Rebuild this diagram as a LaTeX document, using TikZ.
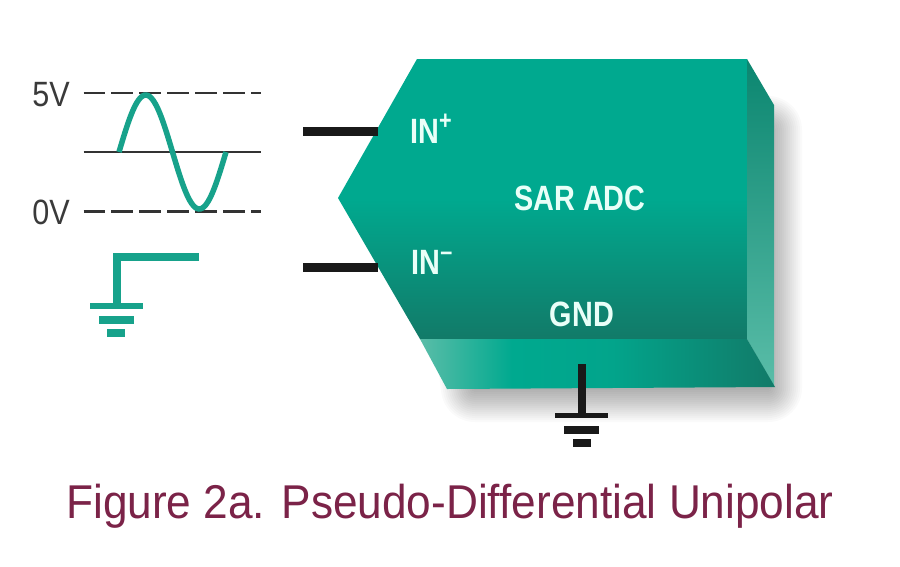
\documentclass[tikz,border=0pt]{standalone}
\usepackage{fontspec}
\setmainfont{Liberation Sans}
\newfontfamily\narrowfont[FakeStretch=0.87]{Liberation Sans}
\newfontfamily\capfont[FakeStretch=0.932]{Liberation Sans}
\newfontfamily\boldnarrow[FakeStretch=0.82]{Liberation Sans Bold}
\usetikzlibrary{positioning}
\definecolor{adcteal}{HTML}{00A98F}
\definecolor{adcdark}{HTML}{127A68}
\definecolor{adclight}{HTML}{5ABDA8}
\definecolor{adcside}{HTML}{0B8670}
\definecolor{adcmark}{HTML}{17A28B}
\definecolor{capred}{HTML}{7B2348}
\definecolor{volt}{HTML}{3A3A3A}
\definecolor{pintext}{HTML}{E9FFF8}
\pgfdeclarehorizontalshading{adcbottom}{100bp}{color(0bp)=(adclight); color(25bp)=(adclight);
  color(38bp)=(adcteal); color(52bp)=(adcteal!90!adcdark); color(75bp)=(adcdark); color(100bp)=(adcdark)}
\tikzset{
  x=0.02cm,y=-0.02cm,
  pin/.style={text=pintext,font=\boldnarrow\fontsize{20}{22}\selectfont,inner sep=0pt},
  volt/.style={text=volt,font=\narrowfont\fontsize{20}{22}\selectfont,inner sep=0pt},
  wire/.style={line width=0.18cm,black!90},
  level/.style={line width=0.05cm,black!80},
}
\newcommand{\pinsup}[1]{\raisebox{0.4em}{\fontsize{15}{15}\selectfont #1}}
\begin{document}
\begin{tikzpicture}
\useasboundingbox (0,0) rectangle (900,566);
\fill[white] (0,0) rectangle (900,566);

% soft shadow behind the block
\foreach \w in {4,8,...,68} {
  \draw[black,opacity=0.018,line width=\w*0.02cm,line join=round]
    (470,350) -- (768,130) -- (768,388) -- (475,388) -- cycle;
}

% block faces
\shade[top color=adcteal,bottom color=adcdark,middle color=adcteal,shading angle=0]
  (417,59) -- (747,59) -- (747,339) -- (420,339) -- (338,198) -- cycle;
\shade[top color=adcside,middle color=adcteal!60!adcside,bottom color=adclight]
  (747,59) -- (774,105) -- (774,386) -- (747,339) -- cycle;
\shade[shading=adcbottom]
  (420,339) -- (747,339) -- (775,387) -- (447,389) -- cycle;

% pins
\coordinate (inpwire) at (303,131.5);
\coordinate (inpedge) at (378,131.5);
\coordinate (inmwire) at (303,267.5);
\coordinate (inmedge) at (378,267.5);
\draw[wire] (inpwire) -- (inpedge);
\draw[wire] (inmwire) -- (inmedge);

\node[pin] (inp) at (431,129) {IN\pinsup{+}};
\node[pin] (inm) at (432,262) {IN\pinsup{–}};
\node[pin] (adc) at (580,198) {SAR ADC};
\node[pin] (gnd) at (582,314) {GND};

% ground under the block
\coordinate (gndtop) at (581.5,364);
\coordinate (gndbar) at (581.5,415);
\draw[black!90,line width=0.16cm] (gndtop) -- (gndbar);
\fill[black!90] (555,413) rectangle (608,418);
\fill[black!90] (564,426) rectangle (599,434);
\fill[black!90] (573,439) rectangle (591,447);

% input levels
\node[volt] (top) at (51,95) {5V};
\node[volt] (low) at (51,212) {0V};
\coordinate (topl) at (83.5,93);
\coordinate (topr) at (261,93);
\coordinate (midl) at (83.5,152);
\coordinate (midr) at (261,152);
\coordinate (lowl) at (83.5,211.5);
\coordinate (lowr) at (261,211.5);
\draw[level,dash pattern=on 0.44cm off 0.12cm] (topl) -- (topr);
\draw[level] (midl) -- (midr);
\draw[level,dash pattern=on 0.44cm off 0.12cm] (lowl) -- (lowr);

\draw[adcmark,line width=0.11cm,domain=0:360,samples=60,smooth]
  plot ({119+107*(\x/360)},{152-57*sin(\x)});

% reference step and its ground
\coordinate (stepr) at (199,256.5);
\coordinate (stepc) at (116.5,256.5);
\coordinate (stepb) at (116.5,305);
\draw[adcmark,line width=0.16cm] (stepr) -- (stepc) -- (stepb);
\fill[adcmark] (90,303) rectangle (143,309);
\fill[adcmark] (99,316) rectangle (134,324);
\fill[adcmark] (107,329) rectangle (125,337);

\node[text=capred,font=\capfont\fontsize{27}{30}\selectfont,inner sep=0pt] (cap) at (450,506)
  {Figure 2a. Pseudo-Differential Unipolar};
\end{tikzpicture}
\end{document}
